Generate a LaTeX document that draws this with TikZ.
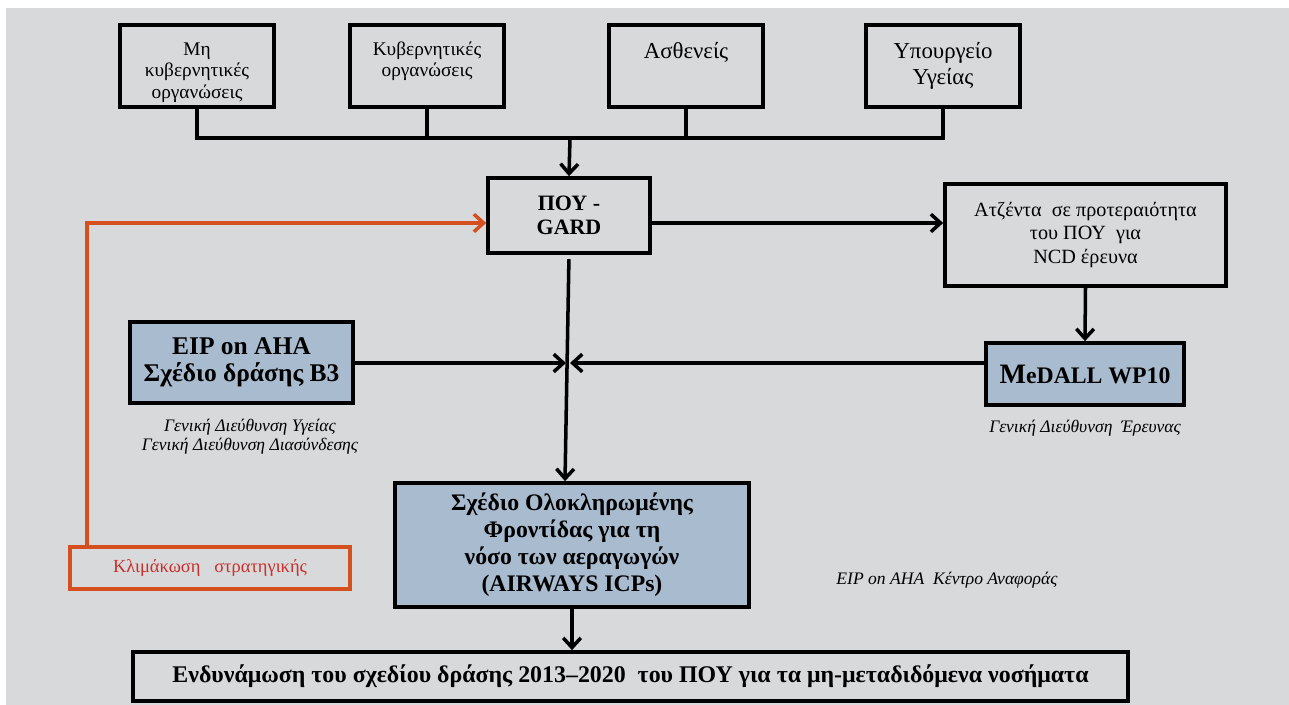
\documentclass[tikz,border=0pt]{standalone}
\usepackage{fontspec}
\setmainfont{Liberation Serif}
\usetikzlibrary{arrows.meta}
\definecolor{bggray}{HTML}{D8D9DB}
\definecolor{boxblue}{HTML}{A9BBCF}
\definecolor{stratorange}{HTML}{D5501F}
\definecolor{stratred}{HTML}{C9302C}
\newcommand{\toptext}[3]{\parbox[c][1.64cm][t]{3cm}{\centering\fontsize{#1}{#2}\selectfont\vspace*{8.5pt}\strut#3}}
\begin{document}
\begin{tikzpicture}
[x=0.02cm,y=-0.02cm,
 box/.style={draw,line width=2.1pt,inner sep=0pt,align=center},
 topbox/.style={box,minimum width=3.08cm,minimum height=1.64cm},
 bluebox/.style={box,fill=boxblue},
 note/.style={inner sep=0pt,align=center,font=\itshape\fontsize{10}{11}\selectfont},
 link/.style={line width=2pt},
 arr/.style={link,-{Straight Barb[length=5.5pt,width=10pt]}}]
\useasboundingbox (0,0) rectangle (1289,705);
\fill [bggray] (6,8) rectangle (1289,705);
\node (mh) [topbox] at (197,66) {\toptext{11}{12.3}{Μη\\κυβερνητικές\\οργανώσεις}};
\node (kyv) [topbox] at (427,66) {\toptext{11}{12.3}{Κυβερνητικές\\οργανώσεις}};
\node (asth) [topbox] at (686,66) {\toptext{13}{15}{Ασθενείς}};
\node (ypourg) [topbox] at (943,66) {\toptext{13}{15}{Υπουργείο\\Υγείας}};
\node (pou) [box,minimum width=3.24cm,minimum height=1.5cm,font=\bfseries\fontsize{12.5}{14}\selectfont] at (569,215.5) {ΠΟΥ -\\GARD};
\node (atz) [box,minimum width=5.62cm,minimum height=2.04cm,font=\fontsize{11.5}{13.5}\selectfont] at (1085.5,235) {Ατζέντα\ \ σε προτεραιότητα\\του ΠΟΥ\ \ για\\NCD έρευνα};
\node (medall) [bluebox,minimum width=3.96cm,minimum height=1.24cm,font=\bfseries\fontsize{13.5}{15}\selectfont] at (1085,374) {{\fontsize{16}{15}\selectfont M}eDALL WP10};
\node (mednote) [note] at (1085,428) {Γενική Διεύθυνση\ \ Έρευνας};
\node (eip) [bluebox,minimum width=4.46cm,minimum height=1.62cm,font=\bfseries\fontsize{14.5}{15.5}\selectfont] at (241.5,362.5) {EIP on AHA\\Σχέδιο δράσης B3};
\node (eipnote) [note] at (250,437) {Γενική Διεύθυνση Υγείας\\Γενική Διεύθυνση Διασύνδεσης};
\node (sxedio) [bluebox,minimum width=7.08cm,minimum height=2.48cm,font=\bfseries\fontsize{13.5}{15.3}\selectfont] at (572,545) {Σχέδιο Ολοκληρωμένης\\Φροντίδας για τη\\νόσο των αεραγωγών\\(AIRWAYS ICPs)};
\node (kentro) [note] at (947,580) {EIP on AHA\ \ Κέντρο Αναφοράς};
\node (klim) [box,draw=stratorange,minimum width=5.6cm,minimum height=0.84cm,text=stratred,font=\fontsize{10.5}{12}\selectfont] at (210,568) {Κλιμάκωση\ \ \ στρατηγικής};
\node (endyn) [box,minimum width=19.9cm,minimum height=0.98cm,font=\bfseries\fontsize{13.6}{15}\selectfont] at (630.5,676.5) {Ενδυνάμωση του σχεδίου δράσης 2013–2020\ \ του ΠΟΥ για τα μη-μεταδιδόμενα νοσήματα};
\coordinate (bus) at (570,138);
\coordinate (hub) at (568,363);
\coordinate (pouR) at ([yshift=-0.15cm]pou.east);
\coordinate (pouL) at ([yshift=-0.15cm]pou.west);
\draw [link] (mh.south) -- (mh.south |- bus) -- (ypourg.south |- bus) -- (ypourg.south);
\draw [link] (kyv.south) -- (kyv.south |- bus);
\draw [link] (asth.south) -- (asth.south |- bus);
\draw [arr] (bus) -- (pou.north);
\draw [arr] (pouR) -- (pouR -| atz.west);
\draw [arr] (atz.south) -- (medall.north);
\draw [arr] (eip.east |- hub) -- ([xshift=-0.04cm]hub);
\draw [arr] (medall.west |- hub) -- ([xshift=0.04cm]hub);
\draw [arr,shorten <=2.5pt] (pou.south) -- ([xshift=-0.14cm]sxedio.north);
\draw [arr] (sxedio.south) -- (sxedio.south |- endyn.north);
\draw [arr,draw=stratorange] ([xshift=0.38cm]klim.north west) |- (pouL);
\end{tikzpicture}
\end{document}
